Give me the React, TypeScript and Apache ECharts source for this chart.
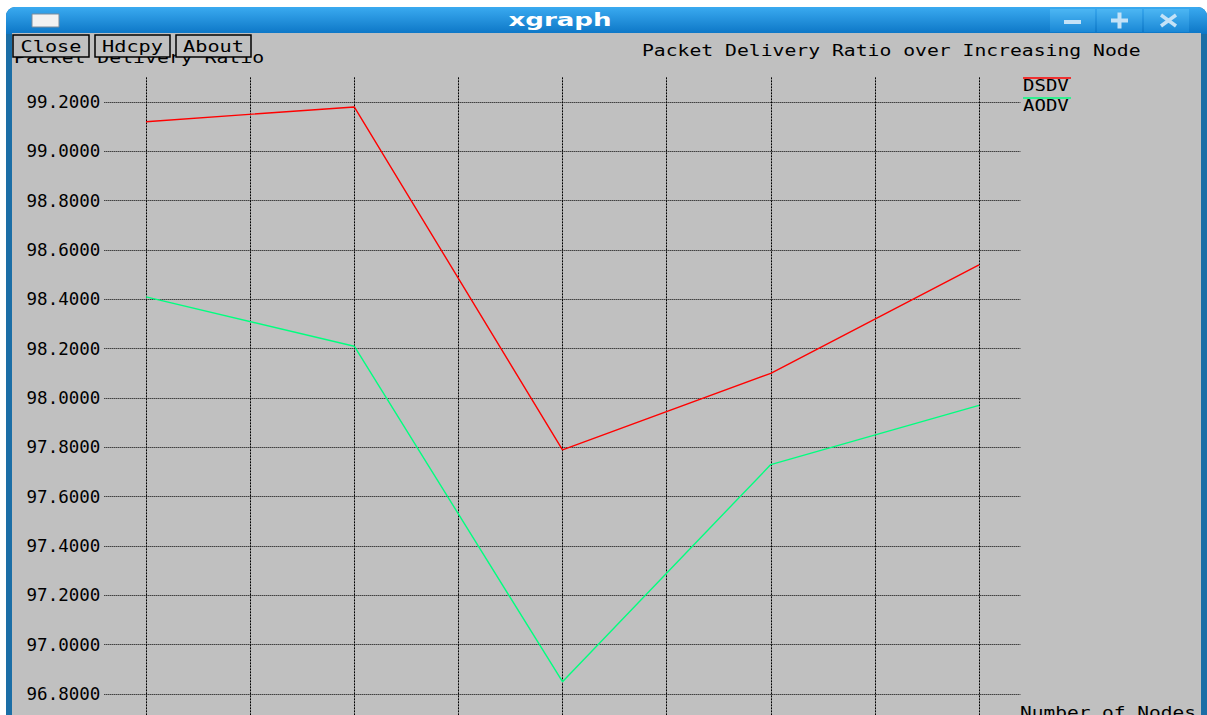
import React, { useEffect, useRef } from "react";
import * as echarts from "echarts";

// ---- data ----
const nodeCounts = [10, 20, 30, 40, 50];
const dsdvRatio = [99.12, 99.18, 97.79, 98.1, 98.54];
const aodvRatio = [98.41, 98.21, 96.85, 97.73, 97.97];
const seriesNames = ["DSDV", "AODV"];
const windowTitle = "xgraph";
const chartTitle = "Packet Delivery Ratio over Increasing Node";
const yAxisName = "Packet Delivery Ratio";
const xAxisName = "Number of Nodes";
const buttonLabels = ["Close", "Hdcpy", "About"];

const MONO = "DejaVu Sans Mono";
const seriesColors = ["#ff0000", "#00ff7f"];
const T = "rgba(0,0,0,0)";

export default function App() {
  const ref = useRef<HTMLDivElement>(null);
  useEffect(() => {
    if (!ref.current) return;
    const chart = echarts.init(ref.current, null, { renderer: "svg" });

    const monoText = (text: string, x: number, y: number, align: string, sx = 1.32, extra: any = {}) => ({
      type: "text",
      x,
      y,
      scaleX: sx,
      z: 20,
      style: {
        text,
        fontFamily: MONO,
        fontSize: 15,
        fill: "#000",
        textAlign: align,
        textVerticalAlign: "middle",
        ...extra,
      },
    });

    const btnX = [13, 95, 176];
    const btnW = [76, 75, 75];
    const buttons: any[] = [];
    buttonLabels.forEach((b, i) => {
      buttons.push({
        type: "rect",
        z: 30,
        shape: { x: btnX[i], y: 35, width: btnW[i], height: 22 },
        style: { fill: "#c0c0c0", stroke: "#000", lineWidth: 1.5 },
      });
      buttons.push({ ...monoText(b, btnX[i] + btnW[i] / 2, 46.5, "center", 1.35), z: 31 });
    });

    const ctrlX = [1050, 1097, 1144];
    const ctrls: any[] = ctrlX.map((x) => ({
      type: "rect",
      z: 5,
      shape: { x, y: 9, width: 45, height: 23 },
      style: {
        fill: new echarts.graphic.LinearGradient(0, 0, 0, 1, [
          { offset: 0, color: "#4cb6f3" },
          { offset: 1, color: "#1a88d6" },
        ]),
      },
    }));
    const sym = "#c4e2f7";
    ctrls.push(
      { type: "rect", z: 6, shape: { x: 1064, y: 20, width: 17, height: 4 }, style: { fill: sym } },
      { type: "rect", z: 6, shape: { x: 1111, y: 18.5, width: 17, height: 4 }, style: { fill: sym } },
      { type: "rect", z: 6, shape: { x: 1117.5, y: 12.5, width: 4, height: 16 }, style: { fill: sym } },
      { type: "line", z: 6, shape: { x1: 1161, y1: 15, x2: 1176, y2: 26 }, style: { stroke: sym, lineWidth: 3.5 } },
      { type: "line", z: 6, shape: { x1: 1176, y1: 15, x2: 1161, y2: 26 }, style: { stroke: sym, lineWidth: 3.5 } }
    );

    const legend: any[] = [];
    seriesNames.forEach((n, i) => {
      const y = 78 + i * 20;
      legend.push({
        type: "line",
        z: 20,
        shape: { x1: 1023, y1: y, x2: 1071, y2: y },
        style: { stroke: seriesColors[i], lineWidth: 1.5 },
      });
      legend.push(monoText(n, 1023, y + 7.5, "left", 1.27));
    });

    chart.setOption({
      animation: false,
      backgroundColor: "#ffffff",
      grid: {
        left: 104.35,
        top: 77.33,
        width: 916.3,
        height: 641.34,
        containLabel: false,
        outerBoundsMode: "none",
      },
      xAxis: {
        type: "value",
        min: 8,
        max: 52,
        interval: 1,
        axisLine: { show: false },
        axisTick: { show: false },
        axisLabel: { show: false },
        splitLine: {
          show: true,
          lineStyle: { color: [T, T, "#000", T, T], type: [2, 1], width: 1 },
        },
      },
      yAxis: {
        type: "value",
        min: 96.7,
        max: 99.3,
        interval: 0.1,
        axisLine: { show: false },
        axisTick: { show: false },
        axisLabel: {
          margin: 4,
          fontFamily: MONO,
          fontSize: 17.5,
          color: "#000",
          formatter: (v: number) => (Math.round(v * 10) % 2 === 0 ? v.toFixed(4) : ""),
        },
        splitLine: {
          show: true,
          lineStyle: { color: [T, "#000"], type: [1, 1], width: 1 },
        },
      },
      series: [
        {
          name: seriesNames[0],
          type: "line",
          symbol: "none",
          data: nodeCounts.map((c, i) => [c, dsdvRatio[i]]),
          lineStyle: { color: seriesColors[0], width: 1.4 },
          z: 10,
        },
        {
          name: seriesNames[1],
          type: "line",
          symbol: "none",
          data: nodeCounts.map((c, i) => [c, aodvRatio[i]]),
          lineStyle: { color: seriesColors[1], width: 1.4 },
          z: 10,
        },
      ],
      graphic: [
        {
          type: "rect",
          z: -10,
          shape: { x: 6, y: 7, width: 1201, height: 720, r: [9, 9, 0, 0] },
          style: { fill: "#1b6ea6" },
        },
        {
          type: "rect",
          z: -9,
          shape: { x: 6, y: 7, width: 1201, height: 27, r: [9, 9, 0, 0] },
          style: {
            fill: new echarts.graphic.LinearGradient(0, 0, 0, 1, [
              { offset: 0, color: "#3aaaf0" },
              { offset: 1, color: "#0c76c6" },
            ]),
          },
        },
        {
          type: "rect",
          z: -8,
          shape: { x: 12, y: 33, width: 1189, height: 700 },
          style: { fill: "#c0c0c0" },
        },
        {
          type: "rect",
          z: 5,
          shape: { x: 32, y: 14, width: 27, height: 13 },
          style: { fill: "#f2f2f2", stroke: "#7b8b9b", lineWidth: 1 },
        },
        {
          type: "text",
          x: 560,
          y: 20,
          scaleX: 1.45,
          z: 5,
          style: {
            text: windowTitle,
            fontFamily: "DejaVu Sans",
            fontWeight: "bold",
            fontSize: 18,
            fill: "#ffffff",
            textAlign: "center",
            textVerticalAlign: "middle",
          },
        },
        ...ctrls,
        monoText(yAxisName, 14, 58, "left", 1.32),
        ...buttons,
        monoText(chartTitle, 642, 50.5, "left", 1.315),
        ...legend,
        monoText(xAxisName, 1020, 713, "left", 1.3),
      ],
    });
    return () => chart.dispose();
  }, []);
  return (
    <div
      ref={ref}
      style={{ position: "fixed", left: 0, top: 0, width: 1207, height: 715, overflow: "hidden" }}
    />
  );
}
